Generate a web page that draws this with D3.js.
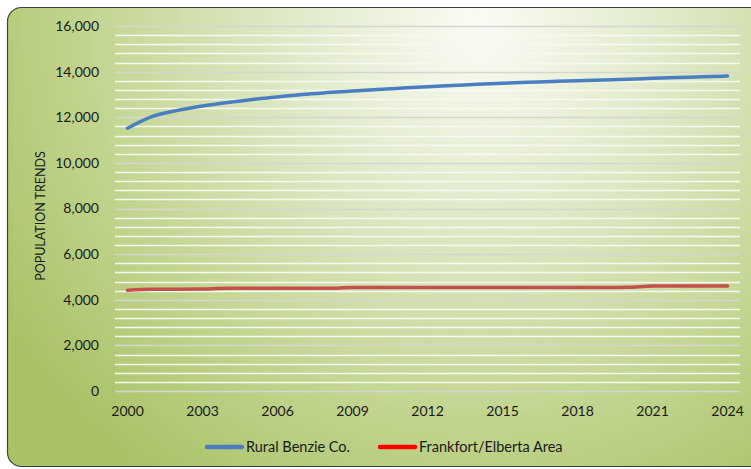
<!DOCTYPE html>
<html><head><meta charset="utf-8">
<script src="https://cdn.jsdelivr.net/npm/d3@7"></script>
<style>body{margin:0;background:#fff}svg{display:block}text{font-family:Lato,"Open Sans",sans-serif;fill:#1a1a1a}</style>
</head><body>
<script>
const years = d3.range(2000, 2025);
const tickYears = [2000,2003,2006,2009,2012,2015,2018,2021,2024];
const yTicks = [0,2000,4000,6000,8000,10000,12000,14000,16000];
const seriesNames = ["Rural Benzie Co.", "Frankfort/Elberta Area"];
const rural = [11520,12040,12300,12490,12645,12780,12890,13000,13080,13150,13220,13280,13340,13390,13445,13490,13530,13570,13605,13635,13665,13705,13745,13770,13810];
const frankfort = [4420,4460,4460,4470,4500,4500,4500,4500,4500,4540,4540,4540,4540,4540,4540,4540,4540,4540,4540,4540,4545,4600,4600,4600,4600];

(function(){
const W = 751, H = 469;
const svg = d3.select("body").append("svg").attr("width", W).attr("height", H);
const defs = svg.append("defs");
const rg = defs.append("radialGradient").attr("id","bg").attr("gradientUnits","userSpaceOnUse")
  .attr("cx",480).attr("cy",25).attr("r",560).attr("fx",480).attr("fy",25);
rg.append("stop").attr("offset",0).attr("stop-color","#fafcf5");
rg.append("stop").attr("offset",0.35).attr("stop-color","#dfe9c8");
rg.append("stop").attr("offset",0.7).attr("stop-color","#c2d590");
rg.append("stop").attr("offset",1).attr("stop-color","#a9c266");

svg.append("rect").attr("x",7.5).attr("y",7.5).attr("width",770).attr("height",459)
  .attr("rx",14).attr("fill","url(#bg)").attr("stroke","#404040").attr("stroke-width",1.2);

const pl = 115, pr = 740, pt = 26, pb = 391;
const x = d3.scaleBand().domain(years).range([pl, pr]);
const y = d3.scaleLinear().domain([0,16000]).range([pb, pt]);

// gridlines
const minor = d3.range(0, 16001, 400);
svg.append("g").selectAll("line").data(minor).join("line")
  .attr("x1", pl).attr("x2", pr)
  .attr("y1", d => Math.round(y(d))+0.5).attr("y2", d => Math.round(y(d))+0.5)
  .attr("stroke", d => d % 2000 === 0 ? "#d6d6d0" : "#f6f9f0")
  .attr("stroke-width", 1.3);

// y axis
const yAxis = d3.axisLeft(y).tickValues(yTicks).tickFormat(d3.format(",")).tickSize(0).tickPadding(16);
const gy = svg.append("g").attr("transform", `translate(${pl},0)`).call(yAxis);
gy.select(".domain").remove();
gy.selectAll("text").style("font-size","14px").attr("fill","#1a1a1a");

// x axis
const xAxis = d3.axisBottom(x).tickValues(tickYears).tickSize(0).tickPadding(15);
const gx = svg.append("g").attr("transform", `translate(0,${pb})`).call(xAxis);
gx.select(".domain").remove();
gx.selectAll("text").style("font-size","14px").attr("fill","#1a1a1a");

// y title
svg.append("text").attr("transform","translate(45,216) rotate(-90)")
  .attr("text-anchor","middle").style("font-size","12.5px").text("POPULATION TRENDS");

const line = d3.line().x((d,i) => x(years[i]) + x.bandwidth()/2).y(d => y(d)).curve(d3.curveMonotoneX);
svg.append("path").datum(frankfort).attr("d", line).attr("fill","none")
  .attr("stroke","#c4504b").attr("stroke-width",3.5).attr("stroke-linecap","round");
svg.append("path").datum(rural).attr("d", line).attr("fill","none")
  .attr("stroke","#4a7ec0").attr("stroke-width",3.5).attr("stroke-linecap","round");

// legend
const legend = [{name: seriesNames[0], color:"#4a7ec0", x:205},{name: seriesNames[1], color:"#ff0000", x:378}];
const lg = svg.append("g").selectAll("g").data(legend).join("g").attr("transform", d => `translate(${d.x},447)`);
lg.append("line").attr("x1",2).attr("x2",37).attr("stroke", d=>d.color).attr("stroke-width",4.5).attr("stroke-linecap","round");
lg.append("text").attr("x",41).attr("dy","0.35em").style("font-size","14.5px").text(d=>d.name);
})();
</script>
</body></html>
